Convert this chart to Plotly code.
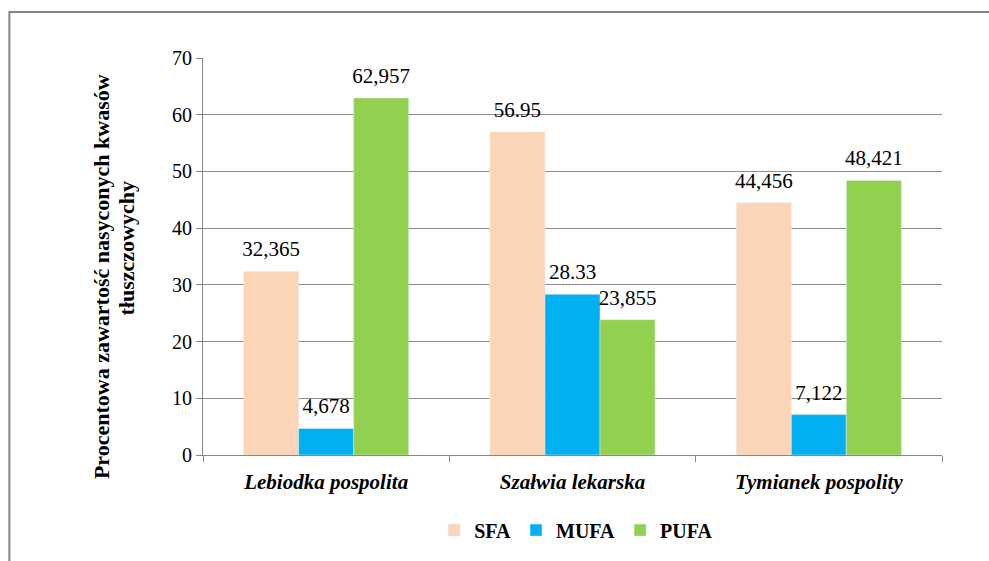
import plotly.graph_objects as go

categories = ["<i>Lebiodka pospolita</i>", "<i>Szałwia lekarska</i>", "<i>Tymianek pospolity</i>"]
sfa = [32.365, 56.95, 44.456]
mufa = [4.678, 28.33, 7.122]
pufa = [62.957, 23.855, 48.421]
sfa_labels = ["32,365", "56.95", "44,456"]
mufa_labels = ["4,678", "28.33", "7,122"]
pufa_labels = ["62,957", "23,855", "48,421"]
y_ticks = [0, 10, 20, 30, 40, 50, 60, 70]
y_title = ["Procentowa zawartość nasyconych kwasów", "tłuszczowychy"]

font = "Times New Roman, serif"

series = [
    ("SFA", sfa, sfa_labels, "#FBD5B5"),
    ("MUFA", mufa, mufa_labels, "#00B0F0"),
    ("PUFA", pufa, pufa_labels, "#92D050"),
]

fig = go.Figure()
for name, vals, labels, color in series:
    fig.add_trace(go.Bar(
        x=categories, y=vals, name=name, marker_color=color,
        offsetgroup=name, alignmentgroup="a",
    ))
# value labels as text-only scatter, grouped the same way as the bars
for name, vals, labels, color in series:
    fig.add_trace(go.Scatter(
        x=categories, y=vals, text=labels, mode="markers+text",
        textposition="top center", offsetgroup=name, alignmentgroup="a",
        marker=dict(size=14, color="rgba(0,0,0,0)"),
        textfont=dict(family=font, size=21, color="#000000"),
        showlegend=False, cliponaxis=False, hoverinfo="skip",
    ))

# two-line rotated y title, drawn as annotations for tighter line spacing
title_font = dict(family=font, size=22, color="#000000", weight="bold")
fig.add_annotation(text=y_title[0], xref="paper", yref="paper", x=-0.137, y=0.45,
                   textangle=-90, showarrow=False, font=title_font,
                   xanchor="center", yanchor="middle")
fig.add_annotation(text=y_title[1], xref="paper", yref="paper", x=-0.103, y=0.52,
                   textangle=-90, showarrow=False, font=title_font,
                   xanchor="center", yanchor="middle")

fig.update_layout(
    width=989, height=561,
    margin=dict(l=203, r=47, t=58, b=106, autoexpand=False),
    paper_bgcolor="white", plot_bgcolor="white",
    barmode="group", bargap=0.33, bargroupgap=0,
    scattermode="group", scattergap=0.33,
    font=dict(family=font, size=20, color="#000000"),
    showlegend=True,
    legend=dict(
        orientation="h", x=0.505, xanchor="center", y=-0.14, yanchor="top",
        font=dict(family=font, size=20, color="#000000", weight="bold"),
        itemwidth=30, tracegroupgap=0,
    ),
    xaxis=dict(
        showline=True, linecolor="#868686", linewidth=1, automargin=False,
        ticks="outside", tickson="boundaries", ticklen=6, tickcolor="#868686",
        ticklabelstandoff=8,
        tickfont=dict(family=font, size=21, color="#000000", weight="bold"),
    ),
    yaxis=dict(
        range=[0, 70], tickvals=y_ticks, showgrid=True, gridcolor="#8C8C8C",
        showline=True, linecolor="#868686", linewidth=1, automargin=False,
        ticks="outside", ticklen=6, tickcolor="#868686",
        tickfont=dict(family=font, size=20, color="#000000"),
        zeroline=False,
    ),
    shapes=[dict(
        type="rect", xref="paper", yref="paper",
        x0=-0.262, x1=1.2, y0=-0.35, y1=1.116,
        line=dict(color="#868686", width=2), fillcolor="rgba(0,0,0,0)",
        layer="below",
    )],
)

fig.write_html("out.html", config={"displayModeBar": False},
               post_script="document.body.style.margin='0';")
